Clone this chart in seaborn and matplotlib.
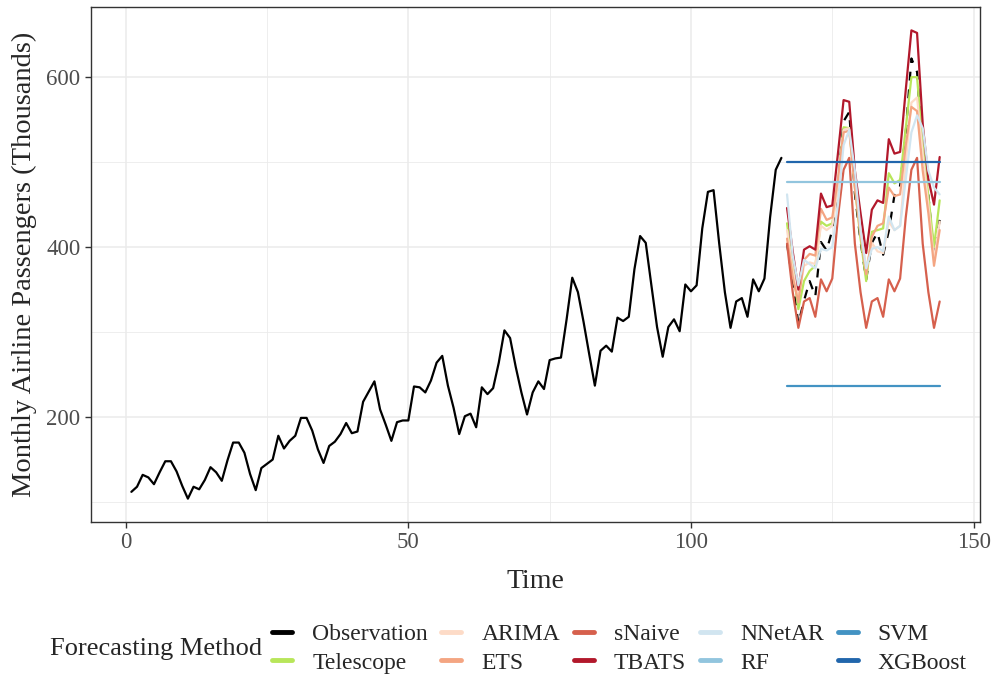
import numpy as np
import pandas as pd
import seaborn as sns
import matplotlib.pyplot as plt
from matplotlib.lines import Line2D
from matplotlib.ticker import MultipleLocator

# monthly airline passengers, first 116 months = training history
history = [
    112, 118, 132, 129, 121, 135, 148, 148, 136, 119, 104, 118,
    115, 126, 141, 135, 125, 149, 170, 170, 158, 133, 114, 140,
    145, 150, 178, 163, 172, 178, 199, 199, 184, 162, 146, 166,
    171, 180, 193, 181, 183, 218, 230, 242, 209, 191, 172, 194,
    196, 196, 236, 235, 229, 243, 264, 272, 237, 211, 180, 201,
    204, 188, 235, 227, 234, 264, 302, 293, 259, 229, 203, 229,
    242, 233, 267, 269, 270, 315, 364, 347, 312, 274, 237, 278,
    284, 277, 317, 313, 318, 374, 413, 405, 355, 306, 271, 306,
    315, 301, 356, 348, 355, 422, 465, 467, 404, 347, 305, 336,
    340, 318, 362, 348, 363, 435, 491, 505,
]
# held-out months 117..144
actual = [404, 359, 310, 337, 360, 342, 406, 396, 420, 472, 548, 559, 463, 407,
          362, 405, 417, 391, 419, 461, 472, 535, 622, 606, 508, 461, 390, 432]

telescope = [428, 375, 327, 360, 372, 378, 430, 425, 428, 475, 541, 540, 470, 410,
             360, 418, 420, 422, 487, 475, 479, 540, 600, 600, 520, 460, 400, 455]
arima = [420, 372, 340, 378, 382, 380, 425, 420, 425, 470, 538, 540, 475, 420,
         375, 405, 395, 393, 430, 420, 425, 500, 570, 576, 510, 450, 385, 430]
ets = [410, 365, 335, 385, 392, 390, 445, 432, 435, 480, 535, 537, 470, 415,
       368, 412, 425, 428, 470, 460, 462, 520, 565, 560, 490, 440, 378, 420]
snaive = [404, 347, 305, 336, 340, 318, 362, 348, 363, 435, 491, 505, 404, 347,
          305, 336, 340, 318, 362, 348, 363, 435, 491, 505, 404, 347, 305, 336]
tbats = [446, 395, 350, 397, 401, 397, 463, 447, 449, 510, 573, 571, 490, 440,
         393, 444, 455, 452, 527, 510, 512, 585, 655, 652, 545, 480, 450, 506]
nnetar = [462, 390, 355, 385, 380, 375, 398, 396, 400, 450, 520, 538, 490, 420,
          375, 398, 400, 395, 436, 420, 425, 480, 535, 555, 540, 490, 470, 462]
rf = [477] * 28
svm = [237] * 28
xgboost = [500] * 28

methods = ["Observation", "Telescope", "ARIMA", "ETS", "sNaive",
           "TBATS", "NNetAR", "RF", "SVM", "XGBoost"]
colors = ["#000000", "#b8e65a", "#fddbc7", "#f4a582", "#d6604d",
          "#b2182b", "#d1e5f0", "#92c5de", "#4393c3", "#2166ac"]

forecasts = {"Telescope": telescope, "ARIMA": arima, "ETS": ets, "sNaive": snaive,
             "TBATS": tbats, "NNetAR": nnetar, "RF": rf, "SVM": svm, "XGBoost": xgboost}

t_hist = np.arange(1, len(history) + 1)
t_test = np.arange(len(history) + 1, len(history) + len(actual) + 1)

fc_df = pd.concat([pd.DataFrame({"Time": t_test, "value": v, "method": k})
                   for k, v in forecasts.items()], ignore_index=True)

sns.set_style("white")
plt.rcParams["font.family"] = ["Liberation Serif", "DejaVu Serif"]

fig, ax = plt.subplots(figsize=(9.94, 6.78), dpi=100)
fig.subplots_adjust(left=0.0915, right=0.986, top=0.9897, bottom=0.230)

palette = dict(zip(methods, colors))
sns.lineplot(data=fc_df, x="Time", y="value", hue="method", palette=palette,
             hue_order=methods[1:], lw=1.6, legend=False, ax=ax, zorder=3)
sns.lineplot(x=t_hist, y=history, color="black", lw=1.6, ax=ax, zorder=4)
ax.plot(t_test, actual, color="black", lw=1.6, ls=(0, (4, 4)), zorder=2)

ax.set_xlim(-6.15, 151.15)
ax.set_ylim(76.45, 682.55)
ax.xaxis.set_major_locator(MultipleLocator(50))
ax.xaxis.set_minor_locator(MultipleLocator(25))
ax.yaxis.set_major_locator(MultipleLocator(200))
ax.yaxis.set_minor_locator(MultipleLocator(100))
ax.grid(True, which="major", color="#ebebeb", lw=1.1)
ax.grid(True, which="minor", color="#ebebeb", lw=0.6)
ax.set_axisbelow(True)
for s in ax.spines.values():
    s.set_color("#333333")
    s.set_linewidth(1.0)
ax.tick_params(axis="both", which="major", labelsize=16.5, labelcolor="#4d4d4d",
               color="#333333", length=4, width=1, bottom=True, left=True)
ax.tick_params(axis="both", which="minor", length=0)
ax.set_xlabel("Time", fontsize=20, labelpad=11)
ax.set_ylabel("Monthly Airline Passengers (Thousands)", fontsize=20.5, labelpad=7)

handles = [Line2D([], [], color=c, lw=3.5) for c in colors]
fig.legend(handles, methods, ncol=5, loc="center left", bbox_to_anchor=(0.2736, 0.0435),
           frameon=False, fontsize=17, handlelength=0.85, handletextpad=0.85,
           columnspacing=0.58, labelspacing=0.3, borderpad=0, borderaxespad=0)
fig.text(0.0503, 0.0435, "Forecasting Method", fontsize=19, va="center", ha="left")

fig.savefig("out.png", dpi=100)
